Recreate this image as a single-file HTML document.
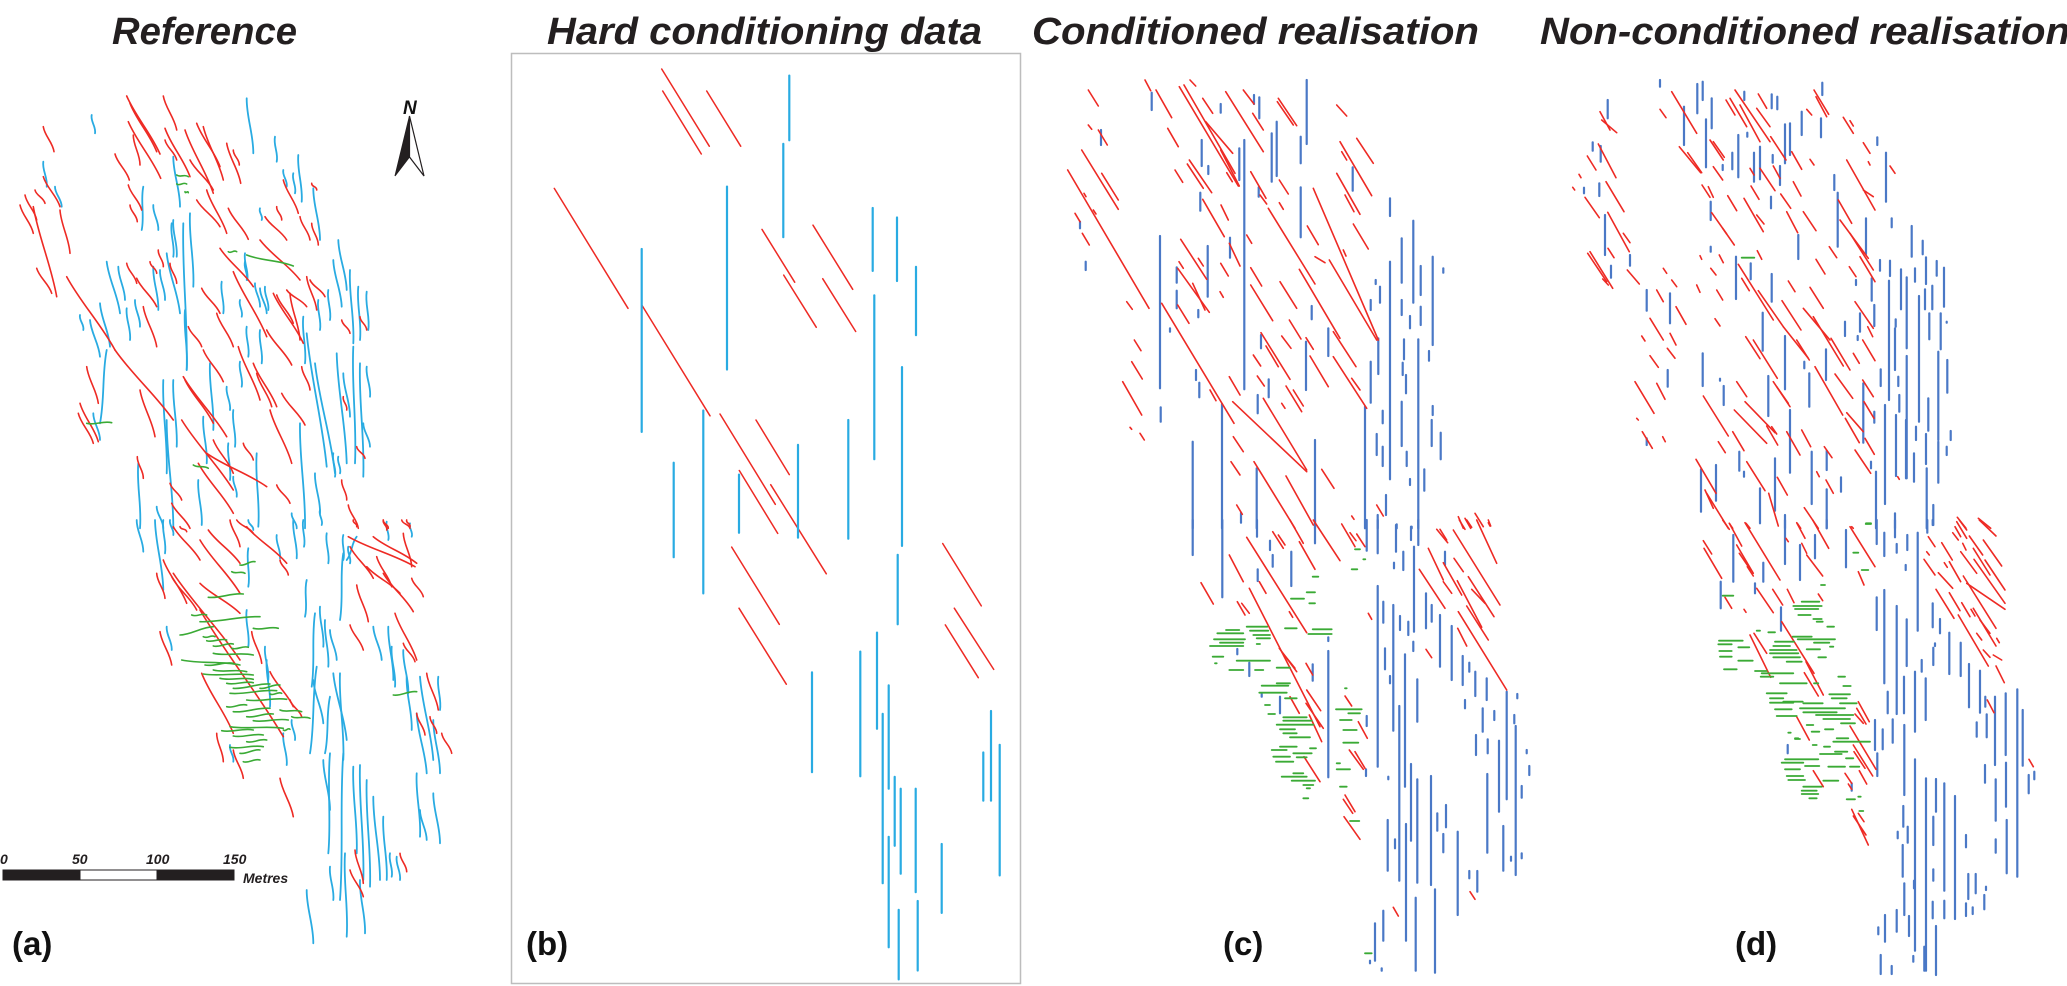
<!DOCTYPE html>
<html><head><meta charset="utf-8"><title>Fracture realisations</title>
<style>
html,body{margin:0;padding:0;background:#fff;}
svg{display:block;}
.title{font-family:"Liberation Sans",sans-serif;font-weight:bold;font-style:italic;font-size:38px;fill:#231f20;}
.lbl{font-family:"Liberation Sans",sans-serif;font-weight:bold;font-size:33px;fill:#111;}
.sb{font-family:"Liberation Sans",sans-serif;font-weight:bold;font-style:italic;font-size:14px;fill:#231f20;}
</style></head>
<body>
<svg id="fig" width="2067" height="986" viewBox="0 0 2067 986" xmlns="http://www.w3.org/2000/svg">
<text class="title" x="112" y="44" textLength="185" lengthAdjust="spacingAndGlyphs">Reference</text>
<text class="title" x="547" y="44" textLength="435" lengthAdjust="spacingAndGlyphs">Hard conditioning data</text>
<text class="title" x="1032" y="44" textLength="447" lengthAdjust="spacingAndGlyphs">Conditioned  realisation</text>
<text class="title" x="1540" y="44" textLength="530" lengthAdjust="spacingAndGlyphs">Non-conditioned  realisation</text>
<rect x="511.5" y="53.5" width="509" height="930" fill="none" stroke="#bdbdbd" stroke-width="1.5"/>
<text class="lbl" x="12" y="955">(a)</text>
<text class="lbl" x="526" y="955">(b)</text>
<text class="lbl" x="1223" y="955">(c)</text>
<text class="lbl" x="1735" y="955">(d)</text>
<g>
<text x="403" y="114" font-family="Liberation Sans,sans-serif" font-weight="bold" font-style="italic" font-size="19" fill="#111">N</text>
<polygon points="409.5,116 395,176 409.5,157" fill="#231f20" stroke="#231f20" stroke-width="1"/>
<polygon points="409.5,116 424,176 409.5,157" fill="#fff" stroke="#231f20" stroke-width="1.2"/>
</g>
<g>
<rect x="3" y="870" width="77" height="10" fill="#231f20" stroke="#231f20"/>
<rect x="80" y="870" width="77" height="10" fill="#fff" stroke="#231f20"/>
<rect x="157" y="870" width="77" height="10" fill="#231f20" stroke="#231f20"/>
<text class="sb" x="0" y="864">0</text>
<text class="sb" x="72" y="864">50</text>
<text class="sb" x="146" y="864">100</text>
<text class="sb" x="223" y="864">150</text>
<text class="sb" x="243" y="883">Metres</text>
</g>
</svg>
<script>
const NS='http://www.w3.org/2000/svg';
const RED='#ee2a24', LBLUE='#29abe2', DBLUE='#4a78c6', GREEN='#3aaa35';
// ---- Panel (b): hard conditioning data (survey units) ----
const bRed=[[452,27,595,157],[455,64,571,170],[587,64,689,157],[130,228,351,430],[393,425,597,611],[753,297,851,386],[906,290,1025,398],[818,374,916,462],[935,380,1034,469],[627,608,793,760],[735,618,835,710],[685,703,800,809],[779,727,946,877],[662,832,805,962],[684,935,826,1063],[1295,826,1411,931],[1330,935,1448,1038],[1303,963,1402,1052]];
const bBlue=[[835,38,147],[817,153,310],[648,225,533],[392,330,638],[1085,261,367],[1158,277,384],[1215,360,475],[1090,408,684],[1173,529,830],[577,602,910],[488,690,849],[684,710,808],[861,660,816],[1012,618,818],[1160,845,962],[1098,976,1138],[1048,1008,1218],[903,1043,1211],[1133,1065,1239],[1115,1113,1398],[1151,1219,1335],[1169,1239,1382],[1214,1239,1413],[1133,1320,1506],[1163,1443,1560],[1220,1428,1545],[1292,1332,1448],[1417,1178,1259],[1440,1108,1259],[1466,1165,1385]];
// ---- Panel (c) conditioned realisation ----
const cTopRed=[[345,0,362,32],[175,30,205,78],[378,30,425,113],[448,20,625,318],[462,15,615,280],[480,0,497,18],[518,55,548,100],[527,125,608,220],[587,35,700,215],[640,30,672,72],[668,100,700,150],[745,55,800,137],[742,65,790,135],[920,75,950,108],[413,145,445,200],[175,135,185,148],[205,150,232,195],[155,210,265,388],[113,270,357,685],[215,280,265,360],[478,240,545,338],[472,252,520,325],[435,270,458,307],[572,210,628,318],[590,278,607,305],[662,275,708,355],[748,300,775,342],[930,185,1025,347],[980,175,1030,250],[935,215,950,240],[920,280,990,403],[945,345,972,395],[850,325,1045,780],[715,385,855,612],[690,345,710,372],[748,368,760,388],[518,358,583,470],[573,375,595,420],[135,400,150,425],[157,460,178,495],[190,390,198,402],[162,340,168,350],[452,478,530,598],[505,535,520,558],[447,545,460,565],[443,565,538,697],[488,610,525,690],[443,675,477,730],[598,490,630,558],[650,465,665,490],[572,550,595,588],[570,635,580,652],[662,563,695,618],[662,615,728,722],[808,568,930,775],[832,438,865,494],[855,530,885,548],[898,540,1040,780],[970,432,1015,507],[940,510,948,528],[750,605,800,685],[778,720,813,777],[755,768,783,805],[693,758,780,898],[708,798,745,860],[670,825,692,858],[828,773,850,808],[840,828,895,920],[910,755,978,860],[910,830,1010,985],[965,895,990,930],[395,670,612,1030],[313,780,333,812],[305,845,337,897],[278,905,335,1005],[290,665,307,688],[598,890,630,945],[682,888,703,918],[540,930,558,962],[608,965,830,1175],[700,955,830,1170],[768,918,815,995],[790,930,820,978],[755,970,765,985],[610,1070,640,1115],[603,1145,630,1185],[672,1145,795,1345],[768,1188,850,1335],[875,1168,912,1225],[620,1275,637,1303],[1040,1275,1060,1308],[965,1308,972,1318],[1285,1310,1300,1345],[1305,1315,1322,1345],[1335,1300,1360,1340],[1375,1328,1380,1338],[300,1042,305,1048],[330,1060,343,1080]];
const cTopBlue=[[365,38,90],[572,72,98],[672,45,72],[688,52,115],[830,0,192],[740,125,288],[725,160,305],[812,170,250],[643,180,928],[628,205,300],[515,180,258],[535,258,282],[213,150,195],[511,338,392],[686,322,350],[812,322,472],[968,262,332],[1080,355,408],[1150,422,668],[1115,475,608],[1080,545,1198],[1208,530,795],[1172,558,645],[390,468,925],[533,498,650],[440,562,608],[440,632,685],[600,473,533],[167,545,570],[150,425,445],[1240,565,578],[1037,600,612],[1050,620,668],[1022,660,690],[1115,660,705],[1140,708,745],[1172,680,735],[845,678,718],[895,745,828],[828,785,930],[693,765,805],[1045,775,882],[1022,845,968],[1165,778,1345],[1122,778,838],[1118,848,885],[1128,885,940],[1197,813,842],[498,870,900],[508,908,952],[716,898,952],[683,945,1000],[392,982,1025],[1005,980,1345],[1058,992,1030],[1040,1062,1125],[1058,1100,1158],[1115,965,1098],[1130,1115,1158],[1140,1197,1215],[1208,978,1005],[1205,1020,1098],[1232,1058,1138],[1183,1168,1232],[1068,1245,1305],[855,1080,1345],[576,972,1345],[488,1085,1345],[680,1165,1345],[633,1298,1328],[1043,1305,1345],[1100,1333,1345],[1145,1340,1345],[420,745,755],[505,690,712]];
const cBotRed=[[780,0,820,70],[850,0,930,122],[935,12,975,80],[960,38,978,62],[980,42,1005,80],[728,35,760,85],[745,45,765,75],[650,52,830,338],[598,105,640,185],[808,65,855,148],[513,188,550,252],[658,205,870,620],[622,245,645,285],[635,250,658,280],[688,185,708,220],[778,275,788,292],[748,385,800,455],[755,395,795,445],[828,430,848,465],[780,530,808,580],[830,510,872,572],[828,550,880,625],[838,585,875,665],[985,605,1012,655],[945,528,965,558],[958,690,1000,748],[975,695,1005,745],[822,710,870,785],[945,825,975,875],[940,838,968,880],[942,890,990,958],[1015,280,1025,298],[1188,388,1205,413],[1090,1162,1105,1188],[1320,1115,1335,1138],[1220,28,1253,68],[1230,28,1250,60],[1195,85,1240,180],[1168,148,1245,265],[1240,128,1295,225],[1240,185,1265,220],[1272,115,1300,155],[1282,182,1355,322],[1270,30,1410,255],[1315,170,1392,290],[1325,208,1365,250],[1310,258,1375,360],[1285,275,1430,510],[1283,325,1310,378],[1288,0,1305,28],[1310,0,1325,22],[1340,0,1400,130],[1375,0,1382,18]];
const cBotBlue=[[488,0,105],[577,0,232],[681,0,50],[855,0,70],[1010,0,92],[1043,0,100],[1098,15,95],[1143,20,60],[1165,0,75],[720,62,90],[728,105,140],[784,95,198],[683,148,183],[1043,198,740],[1060,245,308],[1090,255,632],[1110,288,330],[1135,305,345],[1152,80,335],[1188,220,325],[1205,255,305],[1230,285,440],[1245,95,135],[1092,128,145],[1120,95,150],[1265,318,480],[1298,408,495],[1318,428,455],[1336,455,528],[1370,475,540],[1305,540,565],[1358,565,635],[1393,573,600],[1430,515,838],[1462,522,535],[1453,585,610],[1457,618,1065],[1490,690,700],[1498,738,765],[1475,798,833],[1407,662,875],[1373,658,700],[1338,645,705],[1372,762,998],[1420,918,1052],[1443,1010,1022],[1475,1000,1015],[1125,403,800],[1108,558,1082],[1143,732,962],[1162,778,1088],[1203,768,1095],[1065,385,448],[1080,468,490],[1162,478,605],[1150,365,393],[1010,588,618],[895,393,772],[895,352,363],[848,433,482],[750,530,580],[622,387,403],[658,428,468],[695,522,530],[1073,900,1052],[1095,958,985],[1128,912,1262],[1222,880,932],[1240,942,997],[1248,855,922],[1283,935,1185],[1318,1053,1075],[1342,1053,1115],[1215,1108,1358],[1157,1133,1352],[1060,1172,1262],[1035,1210,1322],[1020,1322,1330],[1055,1345,1352],[1075,770,778],[1008,748,768]];
const cBotGreen=[[975,990,88],[1000,1006,118],[965,982,148],[848,865,170],[830,855,217],[783,822,236],[838,855,250],[765,800,325],[848,905,328],[835,905,342],[588,628,330],[562,640,340],[650,712,320],[660,715,332],[670,720,345],[552,645,358],[680,720,355],[570,640,368],[540,640,378],[680,690,372],[548,580,410],[555,560,430],[620,720,422],[598,640,450],[675,700,450],[740,780,443],[740,780,490],[695,775,497],[688,770,518],[765,800,535],[705,720,555],[918,995,568],[955,990,580],[715,735,582],[760,830,592],[760,845,602],[740,850,614],[930,965,600],[750,795,628],[760,800,640],[940,980,630],[780,840,652],[940,985,668],[750,800,680],[725,770,690],[790,845,700],[840,858,685],[730,780,710],[800,830,712],[738,790,725],[920,930,730],[920,960,748],[790,820,760],[755,830,770],[785,855,782],[820,850,795],[830,840,805],[930,950,800],[820,835,835],[960,988,903],[1005,1025,1300],[945,950,505]];
// ---- Panel (d) non-conditioned realisation ----
const dTopRed=[[395,35,470,160],[360,88,378,113],[180,95,210,150],[185,120,230,158],[175,192,228,293],[142,228,168,270],[117,283,123,293],[98,322,104,330],[135,352,178,413],[198,305,252,395],[203,397,268,515],[250,460,270,488],[204,505,222,533],[143,520,200,605],[150,515,218,625],[188,597,205,615],[262,570,298,612],[558,60,585,105],[570,55,620,140],[585,30,690,185],[600,75,660,185],[650,85,690,140],[655,42,680,85],[800,88,815,105],[822,30,866,103],[828,50,860,110],[910,112,940,160],[930,122,940,138],[418,200,482,278],[443,218,485,278],[510,180,550,240],[520,185,553,232],[520,260,548,300],[486,315,510,352],[505,320,520,352],[563,347,590,392],[612,355,670,455],[650,405,672,432],[692,170,738,240],[755,215,785,268],[810,238,822,255],[630,265,642,285],[633,318,657,358],[660,265,705,332],[700,258,720,295],[760,305,783,348],[722,342,752,385],[740,395,773,458],[790,395,828,452],[970,188,990,220],[985,245,990,255],[920,240,1005,390],[1050,258,1065,280],[970,330,1000,350],[895,360,935,430],[900,420,985,535],[930,460,1000,570],[960,530,1005,605],[868,500,890,533],[828,538,855,582],[928,560,948,590],[515,398,560,462],[548,445,583,495],[480,527,485,538],[538,525,550,548],[512,565,528,585],[652,512,665,538],[595,553,700,720],[605,595,628,632],[655,632,730,740],[745,603,765,635],[810,622,850,685],[726,662,783,750],[790,685,870,780],[820,710,910,858],[730,740,805,835],[617,770,660,836],[640,780,712,895],[770,780,808,840],[873,775,930,870],[940,820,958,850],[945,665,1000,745],[968,780,1005,842],[983,740,998,770],[370,565,380,580],[395,600,410,620],[350,630,370,665],[470,615,480,637],[530,630,548,660],[408,680,438,733],[330,715,370,780],[390,760,408,795],[305,768,315,783],[382,805,405,835],[330,827,355,862],[285,905,342,1000],[350,910,375,958],[525,716,540,738],[590,905,620,950],[700,905,750,980],[710,920,745,970],[490,948,565,1068],[583,990,680,1090],[615,965,705,1058],[578,1055,612,1112],[680,1038,713,1095],[695,1040,710,1062],[740,1055,780,1125],[785,1050,812,1100],[825,860,908,1005],[885,882,938,955],[916,1015,958,1088],[920,998,970,1055],[968,900,1000,950],[972,965,1002,1015],[975,1075,1003,1123],[945,1110,992,1180],[535,1085,556,1118],[620,1145,675,1232],[468,1138,528,1240],[495,1230,520,1285],[500,1240,565,1345],[686,1240,715,1338],[712,1192,742,1245],[793,1283,835,1345],[858,1200,880,1240],[853,1100,876,1133],[830,1175,838,1190],[1073,1190,1078,1198],[1252,1312,1278,1345],[1315,1315,1352,1345],[307,1055,337,1105],[368,1070,376,1085],[290,1015,295,1020],[618,1330,630,1345],[772,1330,782,1345],[935,1340,940,1345],[568,1330,578,1345]];
const dTopBlue=[[360,0,20],[472,12,100],[488,5,60],[515,55,145],[613,35,60],[695,43,85],[712,50,88],[847,8,45],[203,60,115],[432,80,195],[498,118,262],[785,95,165],[843,115,172],[735,133,250],[750,130,225],[595,165,292],[622,158,170],[660,200,298],[642,218,305],[577,218,268],[698,225,248],[720,258,315],[158,187,212],[182,198,245],[178,310,348],[132,323,340],[548,255,270],[1012,172,195],[1038,218,365],[883,285,330],[893,338,500],[693,350,385],[512,365,420],[978,415,522],[1055,415,442],[1115,438,530],[1148,482,523],[775,465,537],[195,405,525],[270,525,557],[213,557,593],[512,500,515],[588,530,657],[632,550,598],[1020,540,572],[1050,542,588],[1083,568,688],[1100,592,805],[1125,565,605],[1158,532,612],[1190,543,587],[1212,563,680],[1137,648,1025],[1155,628,688],[1177,617,688],[995,595,662],[948,600,615],[1047,602,960],[1168,700,778],[1202,700,808],[1220,725,728],[1003,675,738],[960,700,755],[915,725,768],[953,768,780],[1067,718,740],[1065,745,870],[1100,828,1195],[320,630,692],[390,640,730],[668,698,812],[735,768,928],[695,582,665],[488,820,918],[383,870,920],[551,918,975],[540,896,902],[685,888,1008],[808,880,980],[793,845,865],[858,808,900],[970,910,1088],[1003,995,1028],[1022,868,918],[1035,975,1272],[1075,890,918],[1078,945,995],[1068,1005,1188],[1098,1020,1195],[1122,1120,1205],[1128,1040,1080],[1165,955,1052],[1158,1062,1152],[1195,815,1080],[1195,1085,1208],[1222,840,938],[1232,1053,1080],[1220,1100,1125],[750,990,1178],[705,1135,1292],[598,1115,1172],[612,1175,1190],[528,1155,1262],[483,1168,1295],[815,1115,1272],[860,1112,1170],[860,1228,1345],[903,1192,1235],[660,1225,1330],[735,1305,1345],[1008,1175,1345],[993,1145,1165],[1065,1300,1345],[1160,1165,1345],[1180,1275,1335],[320,1075,1095]];
const dTopGreen=[[605,643,533],[978,993,1330]];
const dBotRed=[[548,0,568,28],[568,10,605,78],[615,8,720,180],[490,62,515,102],[492,85,545,175],[590,75,640,160],[598,100,632,150],[622,140,640,168],[738,55,745,65],[770,8,795,55],[818,0,866,85],[785,70,800,100],[800,105,848,168],[930,20,1005,140],[955,155,972,195],[650,205,700,278],[698,208,728,255],[742,208,762,248],[835,222,848,242],[555,232,575,265],[612,268,618,277],[725,305,822,460],[630,345,692,472],[642,340,680,400],[798,425,850,525],[793,458,835,528],[955,545,988,605],[950,565,978,612],[945,582,970,610],[930,618,1008,748],[940,675,998,768],[942,695,975,745],[958,752,980,792],[770,590,808,660],[820,752,850,800],[915,760,935,790],[925,792,935,808],[935,868,985,975],[940,888,978,945],[955,880,972,905],[1250,5,1280,55],[1258,0,1280,30],[1238,38,1255,60],[1245,20,1262,50],[1288,48,1328,105],[1318,0,1368,48],[1330,60,1385,138],[1165,50,1185,80],[1205,68,1237,120],[1152,118,1185,165],[1213,128,1222,142],[1228,125,1262,185],[1262,95,1310,160],[1268,70,1278,90],[1300,85,1350,165],[1195,158,1238,205],[1188,208,1242,295],[1228,218,1260,272],[1270,168,1368,325],[1280,190,1395,268],[1302,118,1395,250],[1335,120,1395,210],[1265,248,1290,290],[1293,268,1305,288],[1255,285,1345,438],[1300,265,1368,378],[1320,300,1350,340],[1310,340,1325,360],[1330,390,1350,412],[1360,405,1385,420],[1368,438,1393,488],[1342,540,1362,578],[1370,355,1378,368],[1467,718,1480,740],[1160,95,1168,105]];
const dBotBlue=[[735,0,132],[860,0,25],[1010,0,72],[1065,0,52],[1162,0,38],[1178,0,15],[580,45,185],[780,75,180],[825,45,115],[918,30,142],[1033,38,108],[1070,72,98],[1102,45,90],[1133,38,332],[1097,135,150],[670,128,185],[645,190,220],[542,185,265],[723,262,332],[1010,232,330],[1033,210,490],[1070,258,582],[1100,298,438],[1178,250,322],[1200,297,340],[1185,370,378],[1180,383,435],[1145,420,455],[1228,338,462],[1262,368,468],[1287,432,562],[1320,452,578],[1336,530,560],[1092,470,580],[1125,455,635],[1157,475,600],[1043,515,580],[1058,598,668],[1005,600,690],[1028,628,688],[1012,700,768],[1093,615,825],[1125,718,1292],[1158,775,1352],[1188,777,875],[1213,790,1112],[1245,828,1197],[1310,607,650],[1340,583,652],[1365,530,735],[1397,520,705],[1432,508,1070],[1448,570,737],[1398,728,860],[1367,778,902],[1335,735,788],[1466,765,820],[1483,755,778],[1400,900,1060],[1367,958,998],[1180,890,975],[1090,858,920],[1103,920,968],[1088,975,1070],[1073,935,955],[1070,1170,1235],[1035,1185,1265],[1015,1222,1243],[1093,1090,1185],[1122,1082,1105],[1107,1188,1248],[1180,1048,1082],[1178,1145,1195],[1213,1142,1195],[1278,945,982],[1285,1062,1137],[1307,1062,1120],[1298,1162,1182],[1278,1150,1188],[1333,1125,1168],[1338,1100,1110],[1188,1218,1365],[1022,1305,1362],[1055,1338,1362],[1120,1308,1325],[1153,1280,1352],[743,675,700],[935,790,812]];
const dBotGreen=[[977,993,12],[940,955,98],[965,985,150],[843,855,195],[548,580,227],[785,838,245],[760,845,258],[765,835,267],[775,812,285],[820,845,297],[830,848,305],[862,882,320],[650,660,332],[685,705,337],[758,815,350],[773,885,358],[537,608,362],[705,762,365],[822,868,368],[535,575,373],[595,628,382],[700,750,378],[690,770,390],[800,840,388],[870,880,380],[538,575,393],[690,775,400],[540,575,410],[700,780,412],[595,638,422],[740,785,425],[835,858,412],[552,590,448],[645,680,453],[665,760,460],[662,700,470],[895,915,470],[720,800,490],[910,932,498],[822,835,490],[680,740,520],[868,930,523],[690,730,535],[730,788,545],[875,920,535],[690,760,548],[790,848,550],[900,950,550],[705,755,568],[780,915,565],[790,890,577],[710,770,588],[828,940,585],[850,930,597],[800,820,615],[855,880,628],[903,945,610],[815,838,635],[765,780,657],[880,990,665],[890,925,655],[818,830,675],[852,870,680],[840,905,702],[885,922,695],[735,835,718],[725,790,728],[795,838,738],[865,915,740],[918,940,715],[735,780,748],[930,958,740],[740,790,768],[745,795,780],[850,895,782],[790,845,800],[785,830,812],[785,835,822],[808,830,835],[920,945,838],[955,962,830],[958,970,873],[745,752,638],[765,775,655]];
// ---- Panel (a) reference traces ----
const aTopRed=[[130,140,162,215],[380,48,480,222],[390,70,470,215],[385,125,482,295],[400,165,420,255],[490,48,530,150],[495,145,570,290],[345,222,388,300],[385,315,425,390],[390,375,412,425],[555,150,640,340],[590,130,660,260],[610,140,670,300],[680,190,722,310],[495,180,530,240],[570,240,640,330],[590,360,660,440],[620,330,680,460],[685,385,745,478],[700,210,718,255],[60,375,100,460],[100,380,170,650],[75,345,110,420],[110,565,155,640],[130,290,180,380],[180,390,210,520],[105,330,135,370],[200,590,345,810],[345,810,520,1020],[260,860,295,970],[240,970,295,1085],[235,1000,280,1090],[380,550,410,610],[410,595,470,680],[430,680,470,800],[475,510,490,560],[450,545,470,580],[510,550,530,610],[605,625,660,700],[660,505,760,620],[700,575,800,770],[650,700,700,800],[565,740,605,800],[610,810,670,905],[715,800,780,960],[760,850,830,980],[845,940,915,1035],[770,880,815,980],[810,990,875,1150],[820,640,910,790],[830,645,880,730],[800,750,875,855],[860,630,920,680],[780,480,900,600],[870,640,900,780],[920,590,950,690],[930,600,975,650],[795,410,860,480],[830,380,845,420],[850,300,895,400],[900,410,930,480],[935,430,955,495],[935,310,950,330],[420,930,465,1070],[550,890,680,1070],[555,900,640,1030],[545,1020,700,1230],[595,1150,700,1300],[620,1120,800,1220],[640,1080,700,1180],[730,1090,760,1140],[830,1215,870,1270],[1025,1200,1040,1260],[1045,1275,1075,1345],[1070,1100,1095,1135],[1150,1320,1165,1345],[1205,1320,1230,1345],[510,1210,545,1260],[515,1270,570,1345],[412,1130,430,1195],[1030,950,1040,990],[1025,720,1050,760],[1080,710,1100,750],[905,860,930,930]];
const aTopBlue=[[740,55,760,220],[825,170,830,245],[850,270,860,320],[880,280,885,340],[895,225,905,365],[940,325,960,480],[1015,480,1040,630],[1000,540,1025,680],[1050,570,1060,790],[1075,620,1080,780],[1100,635,1105,750],[955,660,960,750],[985,630,990,720],[910,710,915,850],[920,760,980,1160],[945,850,1005,1180],[1010,820,1040,1150],[1030,880,1050,1010],[1060,800,1065,1150],[1080,850,1090,1190],[1100,860,1110,950],[1090,1030,1110,1100],[275,105,285,160],[130,245,140,320],[165,320,185,380],[430,320,425,450],[460,375,475,450],[520,230,540,380],[570,400,580,620],[550,430,560,870],[515,430,520,530],[520,420,530,530],[500,520,540,700],[320,545,360,700],[355,560,375,660],[300,670,330,800],[270,720,300,830],[240,705,250,750],[380,685,390,780],[405,660,420,740],[460,560,475,690],[480,570,495,660],[490,900,500,1180],[500,1020,520,1345],[470,1280,490,1345],[415,1150,420,1345],[520,900,530,1100],[555,690,560,870],[320,810,300,1030],[280,1000,300,1080],[610,1010,620,1150],[630,850,640,1050],[665,605,670,700],[720,660,725,710],[735,520,742,600],[780,625,800,700],[740,740,745,830],[780,750,785,850],[720,845,725,920],[680,920,690,990],[700,990,705,1100],[685,1090,690,1200],[595,1200,605,1335],[700,1190,710,1250],[770,1120,775,1340],[900,1030,915,1345],[875,1300,890,1345],[945,1180,960,1300],[960,1290,965,1335],[1000,1120,1005,1190],[1015,1130,1020,1180],[780,385,785,420],[735,545,740,600],[765,610,780,680],[795,620,805,690]];
const aTopGreen=[[685,515,710,515],[740,525,880,558],[530,285,565,290],[530,312,560,312],[555,335,565,338],[260,1030,335,1028],[580,1155,625,1165]];
const aBotRed=[[470,160,495,235],[490,120,560,250],[515,170,590,270],[520,20,600,120],[540,20,560,35],[600,60,720,220],[625,30,720,130],[690,0,720,80],[710,0,760,40],[740,20,860,130],[840,120,865,165],[755,335,785,430],[480,335,515,435],[600,190,720,280],[520,160,720,420],[600,270,850,650],[605,460,700,640],[650,640,670,725],[700,690,730,775],[810,455,880,560],[870,540,905,590],[840,775,880,890],[1045,50,1245,140],[1050,80,1120,175],[1120,50,1250,130],[1100,140,1200,220],[1130,110,1175,200],[1070,195,1105,305],[1150,160,1240,275],[1210,40,1235,140],[1235,175,1270,230],[1185,280,1250,420],[1050,315,1090,390],[1210,370,1245,425],[1280,460,1315,570],[1250,580,1275,645],[1325,640,1355,700],[1290,590,1310,640],[1065,990,1090,1090],[1050,1050,1090,1130],[1200,1000,1220,1055],[1060,0,1070,20],[1150,0,1160,30],[1220,0,1230,20]];
const aBotBlue=[[410,0,430,95],[465,0,490,210],[490,0,495,100],[510,0,520,45],[745,0,760,30],[830,45,840,115],[880,0,890,115],[910,0,912,80],[980,40,985,130],[1030,45,1030,120],[1030,100,1020,300],[1045,80,1050,130],[1160,5,1165,60],[1230,10,1235,50],[740,270,745,380],[745,85,745,200],[500,320,515,390],[795,380,805,480],[800,420,810,560],[920,180,915,290],[945,280,935,500],[960,260,970,380],[975,300,985,440],[990,330,1010,420],[950,440,930,700],[940,480,970,610],[990,530,975,700],[1000,460,1040,660],[1020,460,1030,720],[970,720,990,870],[990,700,985,1000],[1030,700,1020,1140],[1060,740,1070,1000],[1080,735,1090,1080],[1100,780,1110,1100],[1120,830,1140,1080],[1150,890,1160,1080],[1170,1000,1175,1070],[1190,1010,1200,1080],[990,1040,1000,1140],[920,1110,940,1270],[1035,1000,1040,1250],[1080,1080,1095,1240],[1120,320,1145,420],[1165,320,1180,480],[1175,380,1185,500],[1210,390,1225,520],[1220,470,1235,630],[1260,470,1300,720],[1300,600,1320,760],[1250,580,1280,760],[1315,470,1320,570],[1250,760,1260,950],[1260,870,1280,960],[1300,820,1320,970],[850,640,860,735],[875,600,885,660],[690,675,700,725],[1070,50,1040,120]];
const aBotGreen=[[720,135,765,125],[695,155,735,160],[625,232,730,222],[575,285,620,285],[600,305,780,290],[540,345,640,320],[760,325,835,325],[610,350,645,350],[620,362,680,360],[640,378,700,372],[695,385,745,382],[640,400,760,405],[545,420,720,435],[615,435,700,430],[640,450,740,455],[610,462,760,465],[660,475,760,478],[680,490,760,488],[700,505,810,492],[780,505,840,495],[690,520,830,512],[810,522,845,520],[740,540,860,538],[680,560,740,555],[700,575,810,565],[840,570,905,575],[740,590,820,582],[760,602,865,600],[875,590,930,595],[690,620,850,625],[665,632,760,630],[850,630,870,628],[700,648,790,645],[740,665,800,660],[690,682,790,680],[720,700,780,690],[730,725,780,720],[1180,525,1250,515]];

// axis/projection functions: survey units -> page pixels
function proj(ox, oy, kx, ky){ return {x:v=>ox+v/kx, y:v=>oy+v/ky}; }
const P={b:proj(511,53,3,1.684), cT:proj(1030,80,3,3), cB:proj(1030,520,3,3), dT:proj(1540,80,3,3), dB:proj(1540,520,3,3), aT:proj(0,80,3,3), aB:proj(0,520,3,3)};
const svg=document.getElementById('fig');
function group(name){
  const g=document.createElementNS(NS,'g');
  
  
  svg.appendChild(g); return g;
}
function line(g,x1,y1,x2,y2,col,w,name){
  const l=document.createElementNS(NS,'line');
  l.setAttribute('x1',x1.toFixed(1));l.setAttribute('y1',y1.toFixed(1));
  l.setAttribute('x2',x2.toFixed(1));l.setAttribute('y2',y2.toFixed(1));
  l.setAttribute('stroke',col);l.setAttribute('stroke-width',w);l.setAttribute('stroke-linecap','round');
  
  
  g.appendChild(l);
}
function wavy(g,x1,y1,x2,y2,col,w,name){
  const dx=x2-x1, dy=y2-y1, L=Math.hypot(dx,dy)||1, nx=-dy/L*2.5, ny=dx/L*2.5;
  const p=document.createElementNS(NS,'path');
  const ax=x1+dx*0.33+nx, ay=y1+dy*0.33+ny, bx=x1+dx*0.66-nx, by=y1+dy*0.66-ny;
  p.setAttribute('d',`M${x1.toFixed(1)},${y1.toFixed(1)} C${ax.toFixed(1)},${ay.toFixed(1)} ${bx.toFixed(1)},${by.toFixed(1)} ${x2.toFixed(1)},${y2.toFixed(1)}`);
  p.setAttribute('fill','none');p.setAttribute('stroke',col);p.setAttribute('stroke-width',w);p.setAttribute('stroke-linecap','round');
  
  
  g.appendChild(p);
}
function segs(g,arr,p,col,w,name,fn){ arr.forEach(s=>fn(g,p.x(s[0]),p.y(s[1]),p.x(s[2]),p.y(s[3]),col,w,name)); }
function verts(g,arr,p,col,w,name){ arr.forEach(s=>line(g,p.x(s[0]),p.y(s[1]),p.x(s[0]),p.y(s[2]),col,w,name)); }
function horiz(g,arr,p,col,w,name){ arr.forEach(s=>line(g,p.x(s[0]),p.y(s[2]),p.x(s[1]),p.y(s[2]),col,w,name)); }

const ga=group('panel-a-reference-map');
segs(ga,aTopBlue,P.aT,LBLUE,1.8,'fracture-set-2-trace',wavy);
segs(ga,aBotBlue,P.aB,LBLUE,1.8,'fracture-set-2-trace',wavy);
segs(ga,aTopRed,P.aT,RED,1.6,'fracture-set-1-trace',wavy);
segs(ga,aBotRed,P.aB,RED,1.6,'fracture-set-1-trace',wavy);
segs(ga,aTopGreen,P.aT,GREEN,1.6,'fracture-set-3-trace',wavy);
segs(ga,aBotGreen,P.aB,GREEN,1.6,'fracture-set-3-trace',wavy);

const gb=group('panel-b-hard-data-map');
segs(gb,bRed,P.b,RED,1.5,'conditioning-fracture-set-1',line);
verts(gb,bBlue,P.b,LBLUE,2.2,'conditioning-fracture-set-2');

const gc=group('panel-c-conditioned-map');
verts(gc,cTopBlue,P.cT,DBLUE,2.2,'simulated-fracture-set-2');
verts(gc,cBotBlue,P.cB,DBLUE,2.2,'simulated-fracture-set-2');
segs(gc,cTopRed,P.cT,RED,1.6,'simulated-fracture-set-1',line);
segs(gc,cBotRed,P.cB,RED,1.6,'simulated-fracture-set-1',line);
horiz(gc,cBotGreen,P.cB,GREEN,1.8,'simulated-fracture-set-3');

const gd=group('panel-d-non-conditioned-map');
verts(gd,dTopBlue,P.dT,DBLUE,2.2,'simulated-fracture-set-2');
verts(gd,dBotBlue,P.dB,DBLUE,2.2,'simulated-fracture-set-2');
segs(gd,dTopRed,P.dT,RED,1.6,'simulated-fracture-set-1',line);
segs(gd,dBotRed,P.dB,RED,1.6,'simulated-fracture-set-1',line);
horiz(gd,dTopGreen,P.dT,GREEN,1.8,'simulated-fracture-set-3');
horiz(gd,dBotGreen,P.dB,GREEN,1.8,'simulated-fracture-set-3');
</script>
</body></html>
